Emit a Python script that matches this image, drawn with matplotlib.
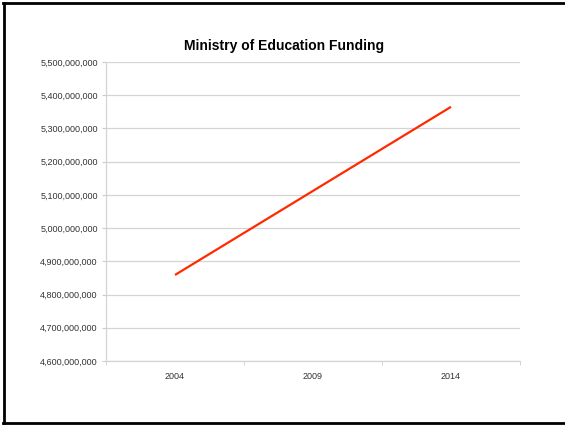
import matplotlib
matplotlib.use("Agg")
import matplotlib.pyplot as plt
from matplotlib.lines import Line2D
from matplotlib.ticker import FuncFormatter

years = ["2004", "2009", "2014"]
funding = [4859000000, 5112000000, 5365000000]
y_ticks = [4600000000 + i * 100000000 for i in range(10)]

plt.rcParams['font.family'] = ['Liberation Sans', 'DejaVu Sans']

W, H = 565, 426
fig = plt.figure(figsize=(W / 100, H / 100), dpi=100)
ax = fig.add_axes([106 / W, 1 - 361 / H, (520 - 106) / W, (361 - 62) / H])

x = list(range(len(years)))
ax.plot(x, funding, color="#ff2a00", lw=1.6, solid_capstyle="butt")

ax.set_xlim(-0.5, len(years) - 0.5)
ax.set_ylim(y_ticks[0], y_ticks[-1])
ax.set_yticks(y_ticks)
ax.yaxis.set_major_formatter(FuncFormatter(lambda v, p: f"{int(round(v)):,}"))
ax.set_xticks(x)
ax.set_xticklabels(years)
ax.set_xticks([i + 0.5 for i in range(-1, len(years))], minor=True)
ax.tick_params(axis="x", which="major", length=0, pad=8, labelsize=6.5, labelcolor="#333333")
ax.tick_params(axis="x", which="minor", length=3, color="#cccccc", direction="out")
ax.tick_params(axis="y", length=3, color="#cccccc", labelsize=6.5, labelcolor="#333333", pad=3)

ax.grid(axis="y", color="#d4d4d4", lw=0.9)
ax.set_axisbelow(True)
for s in ["top", "right"]:
    ax.spines[s].set_visible(False)
for s in ["left", "bottom"]:
    ax.spines[s].set_color("#d4d4d4")
    ax.spines[s].set_linewidth(0.9)

fig.text(284 / W, 1 - 46 / H, "Ministry of Education Funding",
         ha="center", va="center", fontsize=10, fontweight="bold", color="#000000")

# outer frame (left, top, bottom)
lw = 2.0
fig.add_artist(Line2D([4 / W, 4 / W], [1 - 3 / H, 1 - 423 / H], transform=fig.transFigure, color="black", lw=lw))
fig.add_artist(Line2D([3 / W, 1], [1 - 3 / H, 1 - 3 / H], transform=fig.transFigure, color="black", lw=lw))
fig.add_artist(Line2D([3 / W, 1], [1 - 423 / H, 1 - 423 / H], transform=fig.transFigure, color="black", lw=lw))

fig.savefig("out.png", dpi=100)
